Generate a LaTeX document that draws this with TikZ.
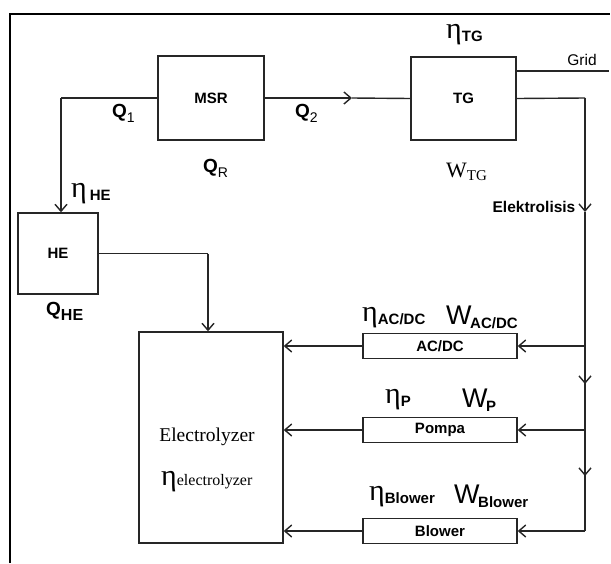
\documentclass[tikz,border=0pt]{standalone}
\usepackage{fontspec}
\setmainfont{Liberation Serif}
\setsansfont{Liberation Sans}
\usetikzlibrary{arrows.meta}
\newfontfamily\etafont{Liberation Serif}
\tikzset{
  x=1pt, y=-1pt,
  line/.style={line width=1.4pt, draw=black!85},
  arr/.style={line, -{Straight Barb[length=7pt,width=12pt,line width=1.4pt]}},
  blk/.style={draw=black!85, line width=1.4pt, minimum width=#1, inner sep=0pt, font=\sffamily\bfseries\fontsize{15}{15}\selectfont},
  lbl/.style={inner sep=0pt, font=\sffamily\bfseries\fontsize{19}{19}\selectfont},
  eta/.style={inner sep=0pt, anchor=base west},
}
\newcommand{\myeta}[1]{{\fontsize{30}{30}\selectfont\etafont η}\raisebox{-3pt}{\sffamily\bfseries\fontsize{15}{15}\selectfont #1}}
\newcommand{\myW}[1]{{\sffamily\fontsize{27}{27}\selectfont W}\raisebox{-4pt}{\sffamily\bfseries\fontsize{15}{15}\selectfont\hspace{-1.5pt}#1}}
\newcommand{\qsub}[1]{\raisebox{-5pt}{\fontseries{m}\selectfont\fontsize{14}{14}\selectfont #1}}
\begin{document}
\begin{tikzpicture}
\useasboundingbox (0,0) rectangle (611,563);
% frame
\draw[line width=2pt] (10,563) -- (10,14) -- (610,14);

% blocks
\node[blk=106pt, minimum height=84pt] (msr) at (211,98) {MSR};
\node[blk=105pt, minimum height=83pt] (tg) at (463.5,98.5) {TG};
\node[blk=80pt, minimum height=81pt] (he) at (58,253.5) {HE};
\node[blk=144pt, minimum height=211pt] (el) at (211,437.5) {};
\node[blk=154pt, minimum height=25pt] (acdc) at (440,346) {AC/DC};
\node[blk=154pt, minimum height=25pt] (pompa) at (440,430) {Pompa};
\node[blk=154pt, minimum height=25pt] (blower) at (440,531) {Blower};

% electrolyzer text
\node[inner sep=0pt, font=\fontsize{19.5}{20}\selectfont] (eltxt) at (207,437) {Electrolyzer};
\node[inner sep=0pt, anchor=base west] (eleta) at (161,485) {{\fontsize{30}{30}\selectfont η}{\fontsize{16}{16}\selectfont electrolyzer}};

% coordinates
\coordinate (q1c) at (61,98);
\coordinate (q2m) at (352,98);
\coordinate (hec) at (208,253.5);
\coordinate (rc) at (585,98);
\coordinate (r1) at (585,212);
\coordinate (r2) at (585,346);
\coordinate (r3) at (585,384);
\coordinate (r4) at (585,430);
\coordinate (r5) at (585,476);
\coordinate (r6) at (585,531);
\coordinate (grid) at (609,71);

% connectors
\draw[line] (msr.west) -- (q1c);
\draw[arr] (q1c) -- (he.north -| q1c);
\draw[arr] (msr.east) -- (q2m);
\draw[line] (q2m) -- (tg.west);
\draw[line] (tg.east |- grid) -- (grid);
\draw[line] (tg.east) -- (rc);
\draw[arr] (rc) -- (r1);
\draw[line] (r1) -- (r3);
\draw[arr] (r2) -- (r3);
\draw[line] (r3) -- (r5);
\draw[arr] (r4) -- (r5);
\draw[line] (r5) -- (r6);
\draw[arr] (r2) -- (acdc.east);
\draw[arr] (r4) -- (pompa.east);
\draw[arr] (r6) -- (blower.east);
\draw[arr] (acdc.west) -- (el.east |- acdc.west);
\draw[arr] (pompa.west) -- (el.east |- pompa.west);
\draw[arr] (blower.west) -- (el.east |- blower.west);
\draw[line] (he.east) -- (hec);
\draw[arr] (hec) -- (el.north -| hec);

% labels
\node[lbl, font=\sffamily\fontsize{15.5}{15.5}\selectfont] (gridl) at (582,60) {Grid};
\node[lbl, anchor=base west] (q1l) at (112,117) {Q\qsub{1}};
\node[lbl, anchor=base west] (q2l) at (295,117) {Q\qsub{2}};
\node[lbl, anchor=base west] (qrl) at (203,172) {Q\qsub{R}};
\node[lbl, anchor=base west] (qhel) at (46,315) {Q\raisebox{-5pt}{\fontsize{16}{16}\selectfont HE}};
\node[lbl, font=\sffamily\bfseries\fontsize{15.5}{15.5}\selectfont] (elek) at (534,207) {Elektrolisis};
\node[inner sep=0pt, anchor=base west] (wtg) at (446,177) {{\fontsize{22}{22}\selectfont W}\raisebox{-3pt}{\fontsize{15}{15}\selectfont TG}};

\node[eta] (etatg) at (446,38) {\myeta{TG}};
\node[eta] (etahe) at (71,197) {\myeta{\hspace{3pt}HE}};
\node[eta] (etaac) at (362,321) {\myeta{AC/DC}};
\node[eta] (etap) at (385,403) {\myeta{P}};
\node[eta] (etab) at (369,500) {\myeta{Blower}};

\node[inner sep=0pt, anchor=base west] (wac) at (446,324) {\myW{AC/DC}};
\node[inner sep=0pt, anchor=base west] (wp) at (462,407) {\myW{P}};
\node[inner sep=0pt, anchor=base west] (wb) at (454,503) {\myW{Blower}};
\end{tikzpicture}
\end{document}
